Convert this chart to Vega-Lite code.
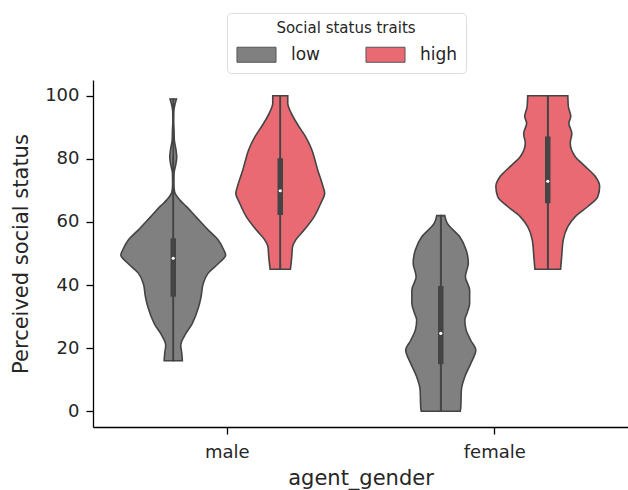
{
  "$schema": "https://vega.github.io/schema/vega-lite/v6.json",
  "width": 535,
  "height": 347,
  "autosize": {"type": "none"},
  "padding": {"left": 93, "top": 80, "right": 0, "bottom": 63},
  "background": "white",
  "datasets": {
    "violin": [
      {"agent_gender": "male", "trait": "low", "value": 16, "density": 0.17},
      {"agent_gender": "male", "trait": "low", "value": 18.3, "density": 0.16},
      {"agent_gender": "male", "trait": "low", "value": 21, "density": 0.14},
      {"agent_gender": "male", "trait": "low", "value": 23.6, "density": 0.2},
      {"agent_gender": "male", "trait": "low", "value": 27.8, "density": 0.355},
      {"agent_gender": "male", "trait": "low", "value": 33.1, "density": 0.475},
      {"agent_gender": "male", "trait": "low", "value": 36.3, "density": 0.52},
      {"agent_gender": "male", "trait": "low", "value": 40.5, "density": 0.56},
      {"agent_gender": "male", "trait": "low", "value": 43.7, "density": 0.65},
      {"agent_gender": "male", "trait": "low", "value": 46.9, "density": 0.85},
      {"agent_gender": "male", "trait": "low", "value": 49.5, "density": 0.98},
      {"agent_gender": "male", "trait": "low", "value": 51.1, "density": 0.945},
      {"agent_gender": "male", "trait": "low", "value": 54.3, "density": 0.84},
      {"agent_gender": "male", "trait": "low", "value": 57.5, "density": 0.65},
      {"agent_gender": "male", "trait": "low", "value": 61.7, "density": 0.42},
      {"agent_gender": "male", "trait": "low", "value": 65, "density": 0.24},
      {"agent_gender": "male", "trait": "low", "value": 67, "density": 0.12},
      {"agent_gender": "male", "trait": "low", "value": 69.5, "density": 0.025},
      {"agent_gender": "male", "trait": "low", "value": 72, "density": 0.012},
      {"agent_gender": "male", "trait": "low", "value": 75.5, "density": 0.015},
      {"agent_gender": "male", "trait": "low", "value": 78, "density": 0.045},
      {"agent_gender": "male", "trait": "low", "value": 80.5, "density": 0.065},
      {"agent_gender": "male", "trait": "low", "value": 83, "density": 0.05},
      {"agent_gender": "male", "trait": "low", "value": 86, "density": 0.02},
      {"agent_gender": "male", "trait": "low", "value": 89, "density": 0.015},
      {"agent_gender": "male", "trait": "low", "value": 92, "density": 0.008},
      {"agent_gender": "male", "trait": "low", "value": 95, "density": 0.01},
      {"agent_gender": "male", "trait": "low", "value": 97.5, "density": 0.035},
      {"agent_gender": "male", "trait": "low", "value": 99, "density": 0.06},

      {"agent_gender": "male", "trait": "high", "value": 45, "density": 0.19},
      {"agent_gender": "male", "trait": "high", "value": 49, "density": 0.215},
      {"agent_gender": "male", "trait": "high", "value": 52.2, "density": 0.23},
      {"agent_gender": "male", "trait": "high", "value": 54.3, "density": 0.29},
      {"agent_gender": "male", "trait": "high", "value": 57.5, "density": 0.45},
      {"agent_gender": "male", "trait": "high", "value": 61.7, "density": 0.635},
      {"agent_gender": "male", "trait": "high", "value": 65.9, "density": 0.757},
      {"agent_gender": "male", "trait": "high", "value": 69.1, "density": 0.83},
      {"agent_gender": "male", "trait": "high", "value": 71.2, "density": 0.8},
      {"agent_gender": "male", "trait": "high", "value": 76.5, "density": 0.7},
      {"agent_gender": "male", "trait": "high", "value": 78.6, "density": 0.665},
      {"agent_gender": "male", "trait": "high", "value": 82.9, "density": 0.59},
      {"agent_gender": "male", "trait": "high", "value": 87.1, "density": 0.47},
      {"agent_gender": "male", "trait": "high", "value": 91.3, "density": 0.31},
      {"agent_gender": "male", "trait": "high", "value": 94.5, "density": 0.205},
      {"agent_gender": "male", "trait": "high", "value": 97.7, "density": 0.14},
      {"agent_gender": "male", "trait": "high", "value": 100, "density": 0.14},

      {"agent_gender": "female", "trait": "low", "value": 0, "density": 0.365},
      {"agent_gender": "female", "trait": "low", "value": 1.4, "density": 0.375},
      {"agent_gender": "female", "trait": "low", "value": 6.7, "density": 0.385},
      {"agent_gender": "female", "trait": "low", "value": 10.9, "density": 0.45},
      {"agent_gender": "female", "trait": "low", "value": 15.1, "density": 0.56},
      {"agent_gender": "female", "trait": "low", "value": 19.4, "density": 0.655},
      {"agent_gender": "female", "trait": "low", "value": 22.5, "density": 0.56},
      {"agent_gender": "female", "trait": "low", "value": 25.7, "density": 0.475},
      {"agent_gender": "female", "trait": "low", "value": 28.9, "density": 0.45},
      {"agent_gender": "female", "trait": "low", "value": 31.5, "density": 0.5},
      {"agent_gender": "female", "trait": "low", "value": 34.2, "density": 0.54},
      {"agent_gender": "female", "trait": "low", "value": 38.4, "density": 0.54},
      {"agent_gender": "female", "trait": "low", "value": 42.6, "density": 0.46},
      {"agent_gender": "female", "trait": "low", "value": 46.9, "density": 0.515},
      {"agent_gender": "female", "trait": "low", "value": 51.1, "density": 0.475},
      {"agent_gender": "female", "trait": "low", "value": 55.3, "density": 0.355},
      {"agent_gender": "female", "trait": "low", "value": 59.6, "density": 0.12},
      {"agent_gender": "female", "trait": "low", "value": 62, "density": 0.075},

      {"agent_gender": "female", "trait": "high", "value": 45, "density": 0.24},
      {"agent_gender": "female", "trait": "high", "value": 49, "density": 0.26},
      {"agent_gender": "female", "trait": "high", "value": 54.3, "density": 0.29},
      {"agent_gender": "female", "trait": "high", "value": 58.5, "density": 0.375},
      {"agent_gender": "female", "trait": "high", "value": 61.7, "density": 0.515},
      {"agent_gender": "female", "trait": "high", "value": 64.9, "density": 0.75},
      {"agent_gender": "female", "trait": "high", "value": 68, "density": 0.935},
      {"agent_gender": "female", "trait": "high", "value": 71.2, "density": 0.97},
      {"agent_gender": "female", "trait": "high", "value": 74.4, "density": 0.89},
      {"agent_gender": "female", "trait": "high", "value": 77.6, "density": 0.7},
      {"agent_gender": "female", "trait": "high", "value": 80.7, "density": 0.515},
      {"agent_gender": "female", "trait": "high", "value": 85, "density": 0.42},
      {"agent_gender": "female", "trait": "high", "value": 88, "density": 0.45},
      {"agent_gender": "female", "trait": "high", "value": 91.3, "density": 0.395},
      {"agent_gender": "female", "trait": "high", "value": 93.4, "density": 0.43},
      {"agent_gender": "female", "trait": "high", "value": 96.6, "density": 0.385},
      {"agent_gender": "female", "trait": "high", "value": 100, "density": 0.375}
    ],
    "box": [
      {"agent_gender": "male", "trait": "low", "lo": 16, "q1": 36.3, "median": 48.5, "q3": 54.8, "hi": 81},
      {"agent_gender": "male", "trait": "high", "lo": 45, "q1": 62.2, "median": 69.9, "q3": 80.2, "hi": 100},
      {"agent_gender": "female", "trait": "low", "lo": 0, "q1": 14.9, "median": 24.7, "q3": 39.7, "hi": 62},
      {"agent_gender": "female", "trait": "high", "lo": 45, "q1": 65.9, "median": 72.9, "q3": 87.1, "hi": 100}
    ]
  },
  "layer": [
    {
      "data": {"name": "violin"},
      "transform": [{"filter": "datum.agent_gender === 'male' && datum.trait === 'low'"}],
      "mark": {"type": "area", "orient": "horizontal", "interpolate": "monotone", "stroke": "#444444", "strokeWidth": 1.6, "opacity": 1},
      "encoding": {
        "y": {"field": "value", "type": "quantitative", "scale": {"domain": [-5, 105], "nice": false, "zero": false},
              "axis": {"title": "Perceived social status", "values": [0, 20, 40, 60, 80, 100]}},
        "x": {"field": "density", "type": "quantitative", "stack": "zero", "scale": {"domain": [-1.5, 8.5], "nice": false, "zero": false},
              "axis": {"title": "agent_gender", "values": [1, 6], "labelExpr": "datum.value < 3 ? 'male' : 'female'", "tickSize": 7, "labelPadding": 9, "titlePadding": 6}},
        "color": {"field": "trait", "type": "nominal", "scale": {"domain": ["low", "high"], "range": ["#808080", "#ea6a73"]},
                  "legend": {
                    "title": "Social status traits", "orient": "none", "legendX": 134, "legendY": -67,
                    "direction": "horizontal", "titleAnchor": "middle", "titleFontSize": 15, "titleFontWeight": "normal", "titleColor": "#262626",
                    "titlePadding": 1.5, "labelFontSize": 17, "labelColor": "#262626", "labelOffset": 22, "columnPadding": 42,
                    "symbolType": "M-0.91,-0.455H1.455V0.455H-0.91Z", "symbolSize": 1089, "symbolStrokeColor": "#555555", "symbolStrokeWidth": 1, "symbolOpacity": 1,
                    "padding": 8, "strokeColor": "#dddddd", "fillColor": "white", "cornerRadius": 4
                  }}
      }
    },
    {
      "data": {"name": "violin"},
      "transform": [{"filter": "datum.agent_gender === 'male' && datum.trait === 'low'"}],
      "mark": {"type": "area", "orient": "horizontal", "interpolate": "monotone", "stroke": "#444444", "strokeWidth": 1.6, "opacity": 1},
      "encoding": {
        "y": {"field": "value", "type": "quantitative", "axis": {"title": "Perceived social status", "values": [0, 20, 40, 60, 80, 100]}},
        "x": {"field": "density", "type": "quantitative", "stack": "zero", "scale": {"domain": [-8.5, 1.5], "reverse": true, "nice": false, "zero": false}, "axis": null},
        "color": {"field": "trait", "type": "nominal", "legend": null}
      }
    },
    {
      "data": {"name": "violin"},
      "transform": [{"filter": "datum.agent_gender === 'male' && datum.trait === 'high'"}],
      "mark": {"type": "area", "orient": "horizontal", "interpolate": "monotone", "stroke": "#444444", "strokeWidth": 1.6, "opacity": 1},
      "encoding": {
        "y": {"field": "value", "type": "quantitative", "axis": {"title": "Perceived social status", "values": [0, 20, 40, 60, 80, 100]}},
        "x": {"field": "density", "type": "quantitative", "stack": "zero", "scale": {"domain": [-3.5, 6.5], "nice": false, "zero": false}, "axis": null},
        "color": {"field": "trait", "type": "nominal", "legend": null}
      }
    },
    {
      "data": {"name": "violin"},
      "transform": [{"filter": "datum.agent_gender === 'male' && datum.trait === 'high'"}],
      "mark": {"type": "area", "orient": "horizontal", "interpolate": "monotone", "stroke": "#444444", "strokeWidth": 1.6, "opacity": 1},
      "encoding": {
        "y": {"field": "value", "type": "quantitative", "axis": {"title": "Perceived social status", "values": [0, 20, 40, 60, 80, 100]}},
        "x": {"field": "density", "type": "quantitative", "stack": "zero", "scale": {"domain": [-6.5, 3.5], "reverse": true, "nice": false, "zero": false}, "axis": null},
        "color": {"field": "trait", "type": "nominal", "legend": null}
      }
    },
    {
      "data": {"name": "violin"},
      "transform": [{"filter": "datum.agent_gender === 'female' && datum.trait === 'low'"}],
      "mark": {"type": "area", "orient": "horizontal", "interpolate": "monotone", "stroke": "#444444", "strokeWidth": 1.6, "opacity": 1},
      "encoding": {
        "y": {"field": "value", "type": "quantitative", "axis": {"title": "Perceived social status", "values": [0, 20, 40, 60, 80, 100]}},
        "x": {"field": "density", "type": "quantitative", "stack": "zero", "scale": {"domain": [-6.5, 3.5], "nice": false, "zero": false}, "axis": null},
        "color": {"field": "trait", "type": "nominal", "legend": null}
      }
    },
    {
      "data": {"name": "violin"},
      "transform": [{"filter": "datum.agent_gender === 'female' && datum.trait === 'low'"}],
      "mark": {"type": "area", "orient": "horizontal", "interpolate": "monotone", "stroke": "#444444", "strokeWidth": 1.6, "opacity": 1},
      "encoding": {
        "y": {"field": "value", "type": "quantitative", "axis": {"title": "Perceived social status", "values": [0, 20, 40, 60, 80, 100]}},
        "x": {"field": "density", "type": "quantitative", "stack": "zero", "scale": {"domain": [-3.5, 6.5], "reverse": true, "nice": false, "zero": false}, "axis": null},
        "color": {"field": "trait", "type": "nominal", "legend": null}
      }
    },
    {
      "data": {"name": "violin"},
      "transform": [{"filter": "datum.agent_gender === 'female' && datum.trait === 'high'"}],
      "mark": {"type": "area", "orient": "horizontal", "interpolate": "monotone", "stroke": "#444444", "strokeWidth": 1.6, "opacity": 1},
      "encoding": {
        "y": {"field": "value", "type": "quantitative", "axis": {"title": "Perceived social status", "values": [0, 20, 40, 60, 80, 100]}},
        "x": {"field": "density", "type": "quantitative", "stack": "zero", "scale": {"domain": [-8.5, 1.5], "nice": false, "zero": false}, "axis": null},
        "color": {"field": "trait", "type": "nominal", "legend": null}
      }
    },
    {
      "data": {"name": "violin"},
      "transform": [{"filter": "datum.agent_gender === 'female' && datum.trait === 'high'"}],
      "mark": {"type": "area", "orient": "horizontal", "interpolate": "monotone", "stroke": "#444444", "strokeWidth": 1.6, "opacity": 1},
      "encoding": {
        "y": {"field": "value", "type": "quantitative", "axis": {"title": "Perceived social status", "values": [0, 20, 40, 60, 80, 100]}},
        "x": {"field": "density", "type": "quantitative", "stack": "zero", "scale": {"domain": [-1.5, 8.5], "reverse": true, "nice": false, "zero": false}, "axis": null},
        "color": {"field": "trait", "type": "nominal", "legend": null}
      }
    },

    {
      "data": {"name": "box"},
      "transform": [{"filter": "datum.agent_gender === 'male' && datum.trait === 'low'"}],
      "layer": [
        {"mark": {"type": "rule", "color": "#444444", "strokeWidth": 1.6},
         "encoding": {"y": {"field": "lo", "type": "quantitative", "axis": {"title": "Perceived social status", "values": [0, 20, 40, 60, 80, 100]}}, "y2": {"field": "hi"}}},
        {"mark": {"type": "rule", "color": "#444444", "strokeWidth": 5.5},
         "encoding": {"y": {"field": "q1", "type": "quantitative", "axis": {"title": "Perceived social status", "values": [0, 20, 40, 60, 80, 100]}}, "y2": {"field": "q3"}}},
        {"mark": {"type": "point", "filled": true, "color": "white", "size": 10, "opacity": 1},
         "encoding": {"y": {"field": "median", "type": "quantitative", "axis": {"title": "Perceived social status", "values": [0, 20, 40, 60, 80, 100]}}}}
      ],
      "encoding": {"x": {"datum": 0, "type": "quantitative", "scale": {"domain": [-1.5, 8.5], "nice": false, "zero": false}, "axis": null}}
    },
    {
      "data": {"name": "box"},
      "transform": [{"filter": "datum.agent_gender === 'male' && datum.trait === 'high'"}],
      "layer": [
        {"mark": {"type": "rule", "color": "#444444", "strokeWidth": 1.6},
         "encoding": {"y": {"field": "lo", "type": "quantitative", "axis": {"title": "Perceived social status", "values": [0, 20, 40, 60, 80, 100]}}, "y2": {"field": "hi"}}},
        {"mark": {"type": "rule", "color": "#444444", "strokeWidth": 5.5},
         "encoding": {"y": {"field": "q1", "type": "quantitative", "axis": {"title": "Perceived social status", "values": [0, 20, 40, 60, 80, 100]}}, "y2": {"field": "q3"}}},
        {"mark": {"type": "point", "filled": true, "color": "white", "size": 10, "opacity": 1},
         "encoding": {"y": {"field": "median", "type": "quantitative", "axis": {"title": "Perceived social status", "values": [0, 20, 40, 60, 80, 100]}}}}
      ],
      "encoding": {"x": {"datum": 0, "type": "quantitative", "scale": {"domain": [-3.5, 6.5], "nice": false, "zero": false}, "axis": null}}
    },
    {
      "data": {"name": "box"},
      "transform": [{"filter": "datum.agent_gender === 'female' && datum.trait === 'low'"}],
      "layer": [
        {"mark": {"type": "rule", "color": "#444444", "strokeWidth": 1.6},
         "encoding": {"y": {"field": "lo", "type": "quantitative", "axis": {"title": "Perceived social status", "values": [0, 20, 40, 60, 80, 100]}}, "y2": {"field": "hi"}}},
        {"mark": {"type": "rule", "color": "#444444", "strokeWidth": 5.5},
         "encoding": {"y": {"field": "q1", "type": "quantitative", "axis": {"title": "Perceived social status", "values": [0, 20, 40, 60, 80, 100]}}, "y2": {"field": "q3"}}},
        {"mark": {"type": "point", "filled": true, "color": "white", "size": 10, "opacity": 1},
         "encoding": {"y": {"field": "median", "type": "quantitative", "axis": {"title": "Perceived social status", "values": [0, 20, 40, 60, 80, 100]}}}}
      ],
      "encoding": {"x": {"datum": 0, "type": "quantitative", "scale": {"domain": [-6.5, 3.5], "nice": false, "zero": false}, "axis": null}}
    },
    {
      "data": {"name": "box"},
      "transform": [{"filter": "datum.agent_gender === 'female' && datum.trait === 'high'"}],
      "layer": [
        {"mark": {"type": "rule", "color": "#444444", "strokeWidth": 1.6},
         "encoding": {"y": {"field": "lo", "type": "quantitative", "axis": {"title": "Perceived social status", "values": [0, 20, 40, 60, 80, 100]}}, "y2": {"field": "hi"}}},
        {"mark": {"type": "rule", "color": "#444444", "strokeWidth": 5.5},
         "encoding": {"y": {"field": "q1", "type": "quantitative", "axis": {"title": "Perceived social status", "values": [0, 20, 40, 60, 80, 100]}}, "y2": {"field": "q3"}}},
        {"mark": {"type": "point", "filled": true, "color": "white", "size": 10, "opacity": 1},
         "encoding": {"y": {"field": "median", "type": "quantitative", "axis": {"title": "Perceived social status", "values": [0, 20, 40, 60, 80, 100]}}}}
      ],
      "encoding": {"x": {"datum": 0, "type": "quantitative", "scale": {"domain": [-8.5, 1.5], "nice": false, "zero": false}, "axis": null}}
    }
  ],
  "resolve": {"scale": {"x": "independent"}, "axis": {"x": "independent"}},
  "config": {
    "font": "DejaVu Sans",
    "view": {"stroke": null},
    "axis": {
      "grid": false,
      "domainColor": "#000000",
      "domainWidth": 1.3,
      "tickColor": "#000000",
      "tickWidth": 1.3,
      "labelFont": "DejaVu Sans",
      "labelFontSize": 18,
      "labelColor": "#262626",
      "titleFont": "DejaVu Sans",
      "titleFontSize": 21,
      "titleFontWeight": "normal",
      "titleColor": "#262626"
    },
    "axisY": {"tickSize": 7, "labelPadding": 7, "titlePadding": 13},
    "legend": {"labelFont": "DejaVu Sans", "titleFont": "DejaVu Sans"}
  }
}
